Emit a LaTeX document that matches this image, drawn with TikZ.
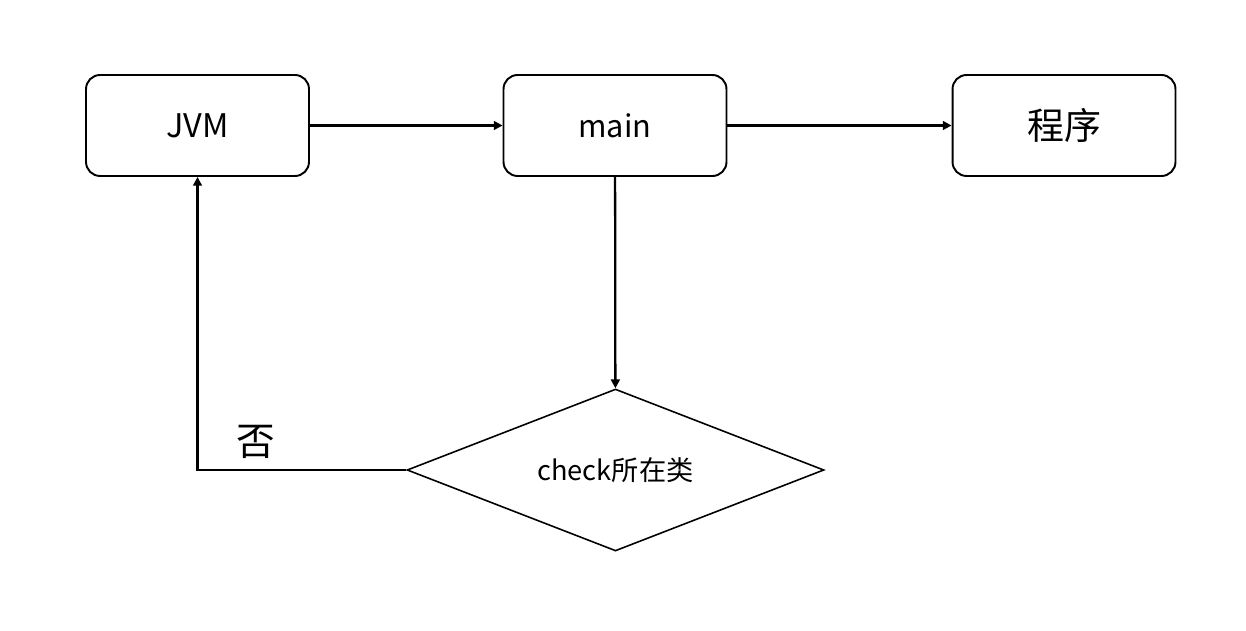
\documentclass[tikz,border=0pt]{standalone}
\usepackage{fontspec}
\setmainfont{Noto Sans CJK SC}
\usetikzlibrary{shapes.geometric,arrows.meta,positioning}

\begin{document}
\begin{tikzpicture}[x=0.02cm,y=-0.02cm,
  st/.style={draw=black,line width=1.1pt,fill=white,rounded corners=8pt,
             minimum width=4.46cm,minimum height=2.02cm,inner sep=0pt,
             font=\fontsize{17.5}{20}\selectfont,align=center},
  dm/.style={draw=black,line width=0.9pt,diamond,aspect=2.57,
             minimum width=8.34cm,minimum height=3.24cm,inner sep=0pt,
             font=\fontsize{15.5}{18}\selectfont},
  tr/.style={-{Triangle[length=5pt,width=5pt]},line width=1.3pt},
  lbl/.style={font=\fontsize{22}{24}\selectfont,inner sep=0pt}
]
\useasboundingbox (0,0) rectangle (1246,631);
\node[st,font=\fontsize{18.5}{22}\selectfont] (jvm) at (197.5,125.5) {JVM};
\node[st] (main) at (615,125.5)   {main};
\node[st,font=\fontsize{21}{24}\selectfont] (prog) at (1064,125.5) {程序};
\node[dm] (check) at (615.5,470) {check所在类};

% top row
\draw[tr] (jvm) -- (main);
\draw[tr] (main) -- (prog);

% main -> check
\draw[tr] (main) -- (check);

% check -> JVM (no)
\draw[tr] (check.west) -| node[lbl,pos=0.36,above=6pt]{否} (jvm.south);
\end{tikzpicture}
\end{document}
